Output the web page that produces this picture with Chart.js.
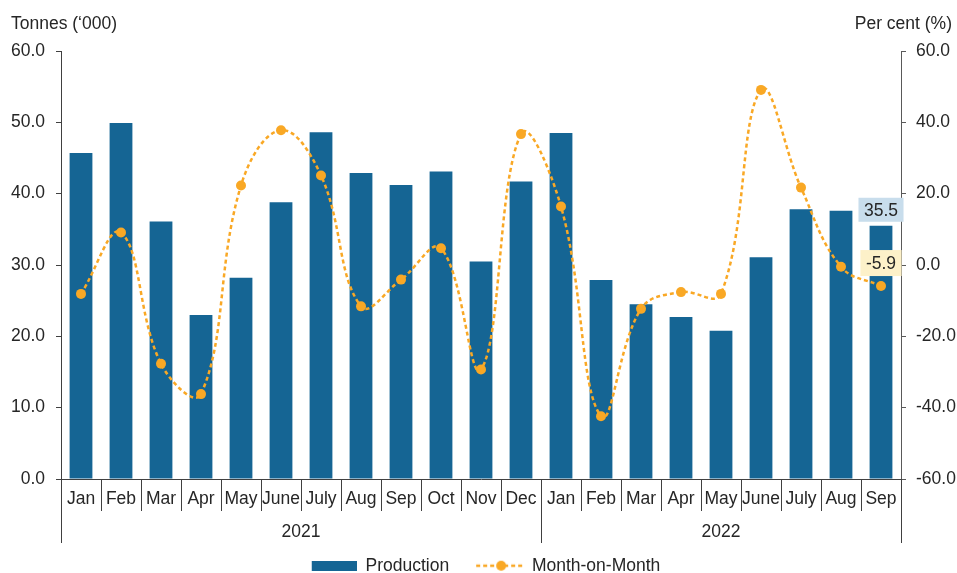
<!DOCTYPE html>
<html>
<head>
<meta charset="utf-8">
<script src="https://cdn.jsdelivr.net/npm/chart.js@4"></script>
<style>
  html, body { margin: 0; padding: 0; background: #fff; overflow: hidden; }
  #wrap { width: 957px; height: 573px; position: relative; }
</style>
</head>
<body>
<div id="wrap"><canvas id="prodChart"></canvas></div>
<script>
// Monthly production and month-on-month change, Jan 2021 - Sep 2022
const months = ['Jan', 'Feb', 'Mar', 'Apr', 'May', 'June', 'July', 'Aug', 'Sep', 'Oct', 'Nov', 'Dec',
                'Jan', 'Feb', 'Mar', 'Apr', 'May', 'June', 'July', 'Aug', 'Sep'];
const yearNames = ['2021', '2022'];
const yearMonthCounts = [12, 9];
const production = [45.7, 49.9, 36.1, 23.0, 28.2, 38.8, 48.6, 42.9, 41.2, 43.1, 30.5, 41.7,
                    48.5, 27.9, 24.5, 22.7, 20.8, 31.1, 37.8, 37.6, 35.5];
const monthOnMonth = [-8.1, 9.1, -27.7, -36.2, 22.3, 37.8, 25.1, -11.6, -4.1, 4.7, -29.3, 36.7,
                      16.4, -42.4, -12.3, -7.6, -8.1, 49.1, 21.7, -0.5, -5.9];
const leftTicks = [0, 10, 20, 30, 40, 50, 60];
const rightTicks = [-60, -40, -20, 0, 20, 40, 60];

const BLUE = '#156594';
const ORANGE = '#F9A825';
const TEXT = '#262626';
const AXIS = '#404040';
const FONT = "'Liberation Sans', Arial, sans-serif";
const FONT_SIZE = 17.5;

// legend swatches drawn once on small canvases
function barSwatch() {
  const c = document.createElement('canvas');
  c.width = 60; c.height = 10;
  const g = c.getContext('2d');
  g.fillStyle = BLUE;
  g.fillRect(15, 0, 45, 10);
  return c;
}
function lineSwatch() {
  const c = document.createElement('canvas');
  c.width = 60; c.height = 12;
  const g = c.getContext('2d');
  g.strokeStyle = ORANGE;
  g.lineWidth = 2.5;
  g.setLineDash([4, 3]);
  g.beginPath(); g.moveTo(13, 6); g.lineTo(60, 6); g.stroke();
  g.fillStyle = ORANGE;
  g.beginPath(); g.arc(38, 6, 5, 0, Math.PI * 2); g.fill();
  return c;
}

// separators and year labels under the month axis, plus the axis titles
const axisExtras = {
  id: 'axisExtras',
  afterDraw(chart) {
    const ctx = chart.ctx;
    const x = chart.scales.x;
    const area = chart.chartArea;
    const bound = i => {
      if (i <= 0) return area.left;
      if (i >= months.length) return area.right;
      return (x.getPixelForValue(i - 1) + x.getPixelForValue(i)) / 2;
    };
    ctx.save();
    ctx.strokeStyle = AXIS;
    ctx.lineWidth = 1;
    // month dividers
    for (let i = 1; i < months.length; i++) {
      const px = Math.round(bound(i)) + 0.5;
      ctx.beginPath(); ctx.moveTo(px, area.bottom); ctx.lineTo(px, area.bottom + 32); ctx.stroke();
    }
    // year dividers and names
    ctx.font = FONT_SIZE + 'px ' + FONT;
    ctx.fillStyle = TEXT;
    ctx.textAlign = 'center';
    ctx.textBaseline = 'middle';
    let start = 0;
    for (let k = 0; k <= yearNames.length; k++) {
      const px = Math.round(bound(start)) + 0.5;
      ctx.beginPath(); ctx.moveTo(px, area.bottom); ctx.lineTo(px, area.bottom + 64); ctx.stroke();
      if (k < yearNames.length) {
        const end = start + yearMonthCounts[k];
        ctx.fillText(yearNames[k], (bound(start) + bound(end)) / 2, area.bottom + 53);
        start = end;
      }
    }
    // axis titles
    ctx.textAlign = 'left';
    ctx.fillText('Tonnes (\u2018000)', 11, 24);
    ctx.textAlign = 'right';
    ctx.fillText('Per cent (%)', 952, 24);
    ctx.restore();
  }
};

// value callouts for the latest month
const lastValues = {
  id: 'lastValues',
  afterDatasetsDraw(chart) {
    const ctx = chart.ctx;
    const i = months.length - 1;
    const xs = chart.scales.x.getPixelForValue(i);
    const barTop = chart.scales.y.getPixelForValue(production[i]);
    const pointY = chart.scales.y1.getPixelForValue(monthOnMonth[i]);
    const box = (text, cx, cy, h, fill) => {
      ctx.font = FONT_SIZE + 'px ' + FONT;
      const w = ctx.measureText(text).width + 11;
      ctx.fillStyle = fill;
      ctx.fillRect(cx - w / 2, cy - h / 2, w, h);
      ctx.fillStyle = TEXT;
      ctx.textAlign = 'center';
      ctx.textBaseline = 'middle';
      ctx.fillText(text, cx, cy + 1);
    };
    ctx.save();
    box(production[i].toFixed(1), xs, barTop - 16, 24, '#C8DDEC');
    box(monthOnMonth[i].toFixed(1), xs, pointY - 23, 26, '#FDF1C9');
    ctx.restore();
  }
};

const ctx = document.getElementById('prodChart').getContext('2d');
new Chart(ctx, {
  type: 'bar',
  data: {
    labels: months,
    datasets: [
      {
        type: 'bar',
        label: 'Production',
        data: production,
        backgroundColor: BLUE,
        yAxisID: 'y',
        barPercentage: 0.57,
        categoryPercentage: 1,
        order: 1
      },
      {
        type: 'line',
        label: 'Month-on-Month',
        data: monthOnMonth,
        borderColor: ORANGE,
        backgroundColor: ORANGE,
        borderWidth: 2.5,
        borderDash: [4, 3],
        pointRadius: 5,
        pointBackgroundColor: ORANGE,
        pointBorderWidth: 0,
        tension: 0.4,
        yAxisID: 'y1',
        order: 0
      }
    ]
  },
  options: {
    responsive: true,
    maintainAspectRatio: false,
    animation: false,
    layout: { padding: { top: 51, left: 0, right: 0, bottom: 0 } },
    plugins: {
      tooltip: { enabled: false },
      legend: {
        position: 'bottom',
        maxHeight: 30,
        labels: {
          usePointStyle: true,
          pointStyleWidth: 60,
          padding: 14,
          color: TEXT,
          font: { family: FONT, size: FONT_SIZE },
          generateLabels: () => [
            { text: 'Production', pointStyle: barSwatch(), fontColor: TEXT, lineWidth: 0, datasetIndex: 0 },
            { text: 'Month-on-Month', pointStyle: lineSwatch(), fontColor: TEXT, lineWidth: 0, datasetIndex: 1 }
          ]
        }
      }
    },
    scales: {
      x: {
        offset: true,
        grid: { display: false, drawTicks: false },
        border: { display: true, color: AXIS, width: 1 },
        ticks: {
          color: TEXT,
          font: { family: FONT, size: FONT_SIZE },
          maxRotation: 0,
          autoSkip: false,
          padding: 10
        },
        afterFit: s => { s.height = 64; }
      },
      y: {
        position: 'left',
        min: 0,
        max: 60,
        afterBuildTicks: s => { s.ticks = leftTicks.map(v => ({ value: v })); },
        grid: { drawOnChartArea: false, drawTicks: true, tickLength: 5, color: AXIS },
        border: { display: true, color: AXIS, width: 1 },
        ticks: {
          color: TEXT,
          font: { family: FONT, size: FONT_SIZE },
          padding: 11,
          callback: v => Number(v).toFixed(1)
        },
        afterFit: s => { s.width = 61; }
      },
      y1: {
        position: 'right',
        min: -60,
        max: 60,
        afterBuildTicks: s => { s.ticks = rightTicks.map(v => ({ value: v })); },
        grid: { drawOnChartArea: false, drawTicks: true, tickLength: 5, color: '#595959' },
        border: { display: true, color: '#595959', width: 1 },
        ticks: {
          color: TEXT,
          font: { family: FONT, size: FONT_SIZE },
          padding: 10,
          callback: v => Number(v).toFixed(1)
        },
        afterFit: s => { s.width = 56; }
      }
    }
  },
  plugins: [axisExtras, lastValues]
});
</script>
</body>
</html>
